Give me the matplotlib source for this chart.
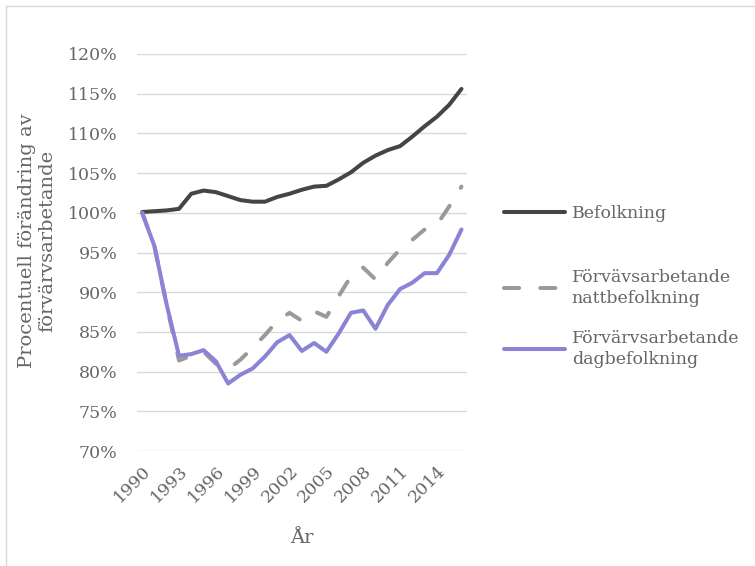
import matplotlib
matplotlib.use("Agg")
import matplotlib.pyplot as plt
from matplotlib.lines import Line2D
from matplotlib.ticker import FuncFormatter, MultipleLocator

years = list(range(1990, 2017))

befolkning = [100.1, 100.2, 100.3, 100.5, 102.4, 102.8, 102.6, 102.1, 101.6, 101.4,
              101.4, 102.0, 102.4, 102.9, 103.3, 103.4, 104.2, 105.1, 106.3, 107.2,
              107.9, 108.4, 109.6, 110.9, 112.1, 113.6, 115.6]
nattbefolkning = [100.0, 95.8, 88.3, 81.4, 82.0, 82.5, 81.0, 80.3, 81.5, 83.0,
                  84.6, 86.4, 87.4, 86.4, 87.6, 86.9, 89.5, 92.0, 93.1, 91.6,
                  93.7, 95.4, 96.6, 97.9, 98.5, 100.8, 103.3]
dagbefolkning = [100.0, 95.8, 88.4, 82.0, 82.2, 82.7, 81.3, 78.5, 79.6, 80.4,
                 81.9, 83.7, 84.6, 82.6, 83.6, 82.5, 84.8, 87.4, 87.7, 85.4,
                 88.4, 90.4, 91.2, 92.4, 92.4, 94.7, 97.9]

labels = ["Befolkning", "Förvävsarbetande\nnattbefolkning", "Förvärvsarbetande\ndagbefolkning"]

txt = "#666666"
font = "DejaVu Serif"
plt.rcParams["font.family"] = font

W, H = 755, 566
fig = plt.figure(figsize=(W / 100, H / 100), dpi=100)
ax = fig.add_axes([137 / W, 1 - 451 / H, (467 - 137) / W, (451 - 54) / H])

l1, = ax.plot(years, befolkning, color="#454545", lw=2.9, solid_capstyle="round", solid_joinstyle="round")
l2, = ax.plot(years, nattbefolkning, color="#9a9a9a", lw=2.9, dashes=(3.75, 5.25),
              dash_capstyle="round", dash_joinstyle="round")
l3, = ax.plot(years, dagbefolkning, color="#8b84d6", lw=2.9, solid_capstyle="round", solid_joinstyle="round")

ax.set_ylim(70, 120)
ax.set_xlim(1990 - 0.42, 2016 + 0.45)
ax.yaxis.set_major_locator(MultipleLocator(5))
ax.yaxis.set_major_formatter(FuncFormatter(lambda v, p: f"{v:.0f}%"))
ax.set_xticks(years[::3])
ax.grid(axis="y", color="#d9d9d9", lw=1.0)
ax.set_axisbelow(True)
for s in ax.spines.values():
    s.set_visible(False)
ax.tick_params(length=0, colors=txt, labelsize=12.5)
ax.tick_params(axis="y", pad=14)
for lab in ax.get_xticklabels():
    lab.set_rotation(45)
    lab.set_ha("right")
    lab.set_va("top")
    lab.set_rotation_mode("anchor")
ax.tick_params(axis="x", pad=8)

ax.set_xlabel("År", color=txt, fontsize=14, labelpad=17)
fig.text(37 / W, 1 - 241 / H, "Procentuell förändring av\nförvärvsarbetande", rotation=90,
         ha="center", va="center", multialignment="center", color=txt, fontsize=14,
         linespacing=1.2)

# legend, one box per entry so the rows sit where they are in the original
for h, lab, yc in zip([l1, l2, l3], labels, [214, 288, 349]):
    lg = fig.legend([h], [lab], loc="center left", bbox_to_anchor=(504 / W, 1 - yc / H),
                    frameon=False, fontsize=12.5, handlelength=3.5, handletextpad=0.4,
                    borderpad=0, borderaxespad=0, labelcolor=txt)
    lg.get_texts()[0].set_linespacing(1.35)

# thin frame of the chart area
fig.add_artist(Line2D([6 / W, 1], [1 - 6 / H, 1 - 6 / H], transform=fig.transFigure, color="#d9d9d9", lw=1))
fig.add_artist(Line2D([6 / W, 6 / W], [0, 1 - 6 / H], transform=fig.transFigure, color="#d9d9d9", lw=1))

fig.savefig("out.png", dpi=100, facecolor="white")
